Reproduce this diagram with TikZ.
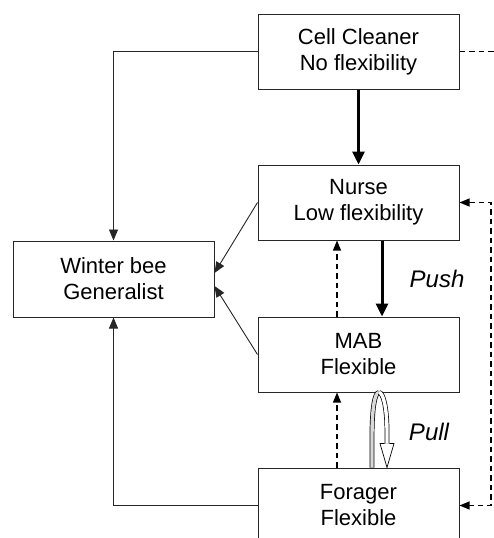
\documentclass[tikz,border=0pt]{standalone}
\usepackage{fontspec}
\setmainfont{Liberation Sans}
\usetikzlibrary{arrows.meta,calc}
\begin{document}
\begin{tikzpicture}[x=1pt,y=-1pt,
  box/.style={draw=black!85, line width=1pt, minimum width=201pt, minimum height=75pt,
    align=center, inner sep=0pt, font=\fontsize{22}{26}\selectfont},
  thinarrow/.style={line width=0.9pt, draw=black!85, -{Triangle[length=11pt,width=9pt]}},
  thickarrow/.style={line width=3pt, -{Triangle[length=13pt,width=12pt]}},
  dasharrow/.style={line width=1.1pt, dash pattern=on 5.5pt off 4pt},
  dtip/.style={-{Triangle[length=10pt,width=8pt]}},
  lab/.style={font=\fontsize{24}{28}\selectfont\itshape}]
\useasboundingbox (0,0) rectangle (494,538);
\clip (0,0) rectangle (494,538);

\node[box] (cell) at (358.5,51.5) {Cell Cleaner\\No flexibility};
\node[box] (nurse) at (358.5,202.5) {Nurse\\Low flexibility};
\node[box] (mab) at (358.5,354.5) {MAB\\Flexible};
\node[box] (forager) at (358.5,505.5) {Forager\\Flexible};
\node[box, minimum height=76pt] (winter) at (113.5,279) {Winter bee\\Generalist};
\coordinate (cellout) at (500,51.5);

% left connectors
\draw[thinarrow] (cell.west) -| (winter.north);
\draw[thinarrow] (forager.west) -| (winter.south);
\draw[thinarrow] (nurse.west) -- ($(winter.east)+(0,-6)$);
\draw[thinarrow] (mab.west) -- ($(winter.east)+(0,7)$);

% thick arrows
\draw[thickarrow] (cell.south) -- (nurse.north);
\draw[thickarrow] ($(nurse.south)+(23.5,0)$) -- ($(mab.north)+(23.5,0)$);
\node[lab] (push) at (437,279) {Push};

% dashed upward arrows
\draw[dasharrow, dtip] ($(mab.north)+(-21.5,0)$) -- ($(nurse.south)+(-21.5,0)$);
\draw[dasharrow, dtip] ($(forager.north)+(-21.5,0)$) -- ($(mab.south)+(-21.5,0)$);

% right dashed bracket
\draw[dasharrow, {Triangle[length=10pt,width=8pt]}-{Triangle[length=10pt,width=8pt]}]
  (nurse.east) -- ++(31.5,0) |- (forager.east);
\draw[dasharrow] (cell.east) -- (cellout);

% pull arrow
\draw[line width=0.7pt, double=black!15, double distance=3.4pt]
  ($(forager.north)+(13.5,0)$) -- ($(mab.south)+(13.5,45)$)
  .. controls ($(mab.south)+(13.5,14)$) and ($(mab.south)+(16.5,0)$) .. ($(mab.south)+(20.5,0)$);
\draw[line width=0.7pt, double=white, double distance=3.4pt]
  ($(mab.south)+(20.5,0)$)
  .. controls ($(mab.south)+(24.5,0)$) and ($(mab.south)+(28.5,14)$) .. ($(mab.south)+(28.5,40)$)
  -- ($(mab.south)+(28.5,51)$);
\fill[white] ($(mab.south)+(21.5,51)$) -- ($(mab.south)+(35.5,51)$) -- ($(forager.north)+(28.5,0)$) -- cycle;
\draw[line width=0.7pt, line join=miter]
  ($(mab.south)+(26.1,51)$) -- ($(mab.south)+(21.5,51)$) -- ($(forager.north)+(28.5,0)$)
  -- ($(mab.south)+(35.5,51)$) -- ($(mab.south)+(30.9,51)$);
\node[lab] (pull) at (429,432) {Pull};
\end{tikzpicture}
\end{document}
